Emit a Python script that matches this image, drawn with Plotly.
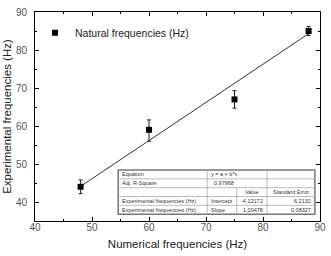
import plotly.graph_objects as go

num_freq = [48, 60, 75, 88]
exp_freq = [44, 59, 67, 85]
err_plus = [1.8, 2.6, 2.3, 1.2]
err_minus = [1.8, 3.0, 2.3, 1.2]

intercept = -4.12172
slope = 1.00478
fit_x = [48, 88]
fit_y = [intercept + slope * v for v in fit_x]

tbl_rows = [
    ["Equation", "y = a + b*x", "", ""],
    ["Adj. R-Square", "0,97968", "", ""],
    ["", "", "Value", "Standard Error"],
    ["Experimental frequencies (Hz)", "Intercept", "-4,12172", "6,2132"],
    ["Experimental frequencies (Hz)", "Slope", "1,00478", "0,08327"],
]

FONT = "Arial, Liberation Sans, sans-serif"

fig = go.Figure()
fig.add_trace(go.Scatter(
    x=fit_x, y=fit_y, mode="lines",
    line=dict(color="#333333", width=1), showlegend=False, hoverinfo="skip"))
fig.add_trace(go.Scatter(
    x=num_freq, y=exp_freq, mode="markers",
    marker=dict(symbol="square", size=6, color="black"),
    error_y=dict(type="data", array=err_plus, arrayminus=err_minus,
                 color="#222222", thickness=1, width=2),
    name="Natural frequencies (Hz)"))

# table geometry (data coordinates)
tx = [54.6, 70.2, 75.4, 80.7, 89.1]
ty_top, ty_bot = 48.4, 36.8
nrows = len(tbl_rows)
rh = (ty_top - ty_bot) / nrows
fig.add_shape(type="rect", x0=tx[0], x1=tx[-1], y0=ty_bot, y1=ty_top,
              xref="x", yref="y", fillcolor="white",
              line=dict(color="#777777", width=1.5), layer="above")
for i in range(1, nrows):
    yy = ty_top - i * rh
    fig.add_shape(type="line", x0=tx[0], x1=tx[-1], y0=yy, y1=yy,
                  xref="x", yref="y", line=dict(color="#aaaaaa", width=0.8), layer="above")
for j in range(1, 4):
    y_start = ty_top if j != 2 else ty_top - 2 * rh
    fig.add_shape(type="line", x0=tx[j], x1=tx[j], y0=ty_bot, y1=y_start,
                  xref="x", yref="y", line=dict(color="#aaaaaa", width=0.8), layer="above")
for i, row in enumerate(tbl_rows):
    yc = ty_top - (i + 0.5) * rh
    for j, txt in enumerate(row):
        if not txt:
            continue
        right = (i >= 3 and j >= 2)
        if right:
            xa, anc = tx[j + 1] - 0.3, "right"
        elif i == 2:
            xa, anc = (tx[j] + tx[j + 1]) / 2, "center"
        elif i == 1 and j == 1:
            xa, anc = tx[1] + 0.8, "left"
        else:
            xa, anc = tx[j] + 0.3, "left"
        fig.add_annotation(x=xa, y=yc, xref="x", yref="y", text=txt,
                           showarrow=False, xanchor=anc, yanchor="middle",
                           font=dict(family=FONT, size=5.5, color="#333333"))

axis_common = dict(
    showline=True, linecolor="black", linewidth=1, mirror="ticks",
    ticks="inside", ticklen=4, tickcolor="black", showgrid=False, zeroline=False,
    tickfont=dict(family=FONT, size=10, color="#555555"),
    minor=dict(ticks="inside", ticklen=2, tickcolor="black", dtick=5),
    automargin=False,
)
fig.update_xaxes(range=[40, 90], dtick=10, tick0=40, ticklabelstandoff=-3,
                 title=dict(text="Numerical frequencies (Hz)", font=dict(family=FONT, size=11.5, color="#222222"), standoff=7),
                 **axis_common)
fig.update_yaxes(range=[35, 90], dtick=10, tick0=40, ticklabelstandoff=5,
                 title=dict(text="Experimental frequencies (Hz)", font=dict(family=FONT, size=11.5, color="#222222"), standoff=1),
                 **axis_common)

fig.update_layout(
    width=331, height=256,
    margin=dict(l=35, r=11, t=12, b=35),
    paper_bgcolor="white", plot_bgcolor="white",
    legend=dict(x=0.0, y=0.97, xanchor="left", yanchor="top", bgcolor="rgba(0,0,0,0)",
                font=dict(family=FONT, size=10.5, color="#222222"), itemwidth=30),
    font=dict(family=FONT),
)
fig.write_html("out.html", config={"displayModeBar": False},
               post_script="document.body.style.margin='0';")
